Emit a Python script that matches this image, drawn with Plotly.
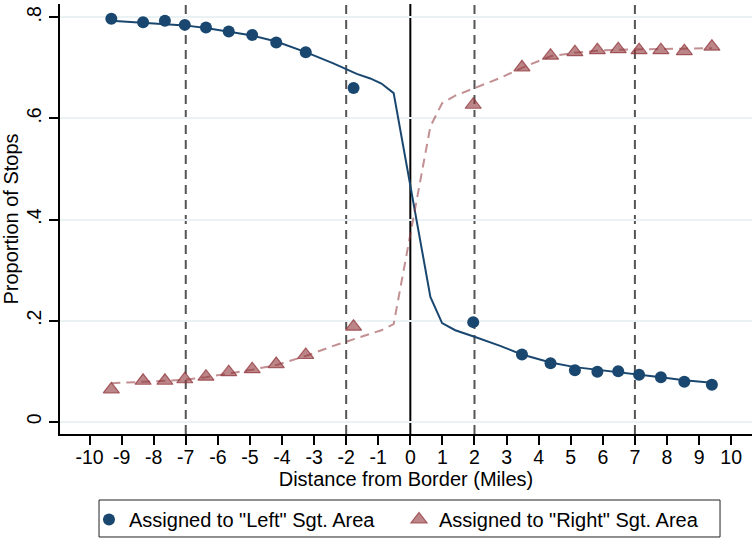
import plotly.graph_objects as go

# ---- data ----
bin_x = [-9.32, -8.33, -7.65, -7.03, -6.37, -5.66, -4.93, -4.18, -3.26, -1.77,
         1.96, 3.48, 4.37, 5.13, 5.83, 6.48, 7.13, 7.81, 8.54, 9.40]
left_share = [0.797, 0.790, 0.793, 0.785, 0.780, 0.772, 0.765, 0.750, 0.731, 0.660,
              0.197, 0.133, 0.1155, 0.102, 0.099, 0.0997, 0.093, 0.088, 0.079, 0.073]
right_share = [0.064, 0.081, 0.081, 0.084, 0.089, 0.098, 0.104, 0.114, 0.132, 0.188,
               0.627, 0.701, 0.724, 0.731, 0.735, 0.737, 0.735, 0.735, 0.733, 0.742]

fit_x = [-9.32, -8.33, -7.65, -7.03, -6.37, -5.66, -4.93, -4.18, -3.26, -2.4, -1.67,
         -1.25, -0.9, -0.52, 0.625, 0.99, 1.4, 2.0, 2.8, 3.48, 4.37, 5.13, 5.83,
         6.48, 7.13, 7.81, 8.54, 9.4]
fit_left = [0.793, 0.789, 0.787, 0.784, 0.779, 0.772, 0.764, 0.752, 0.731, 0.709, 0.688,
            0.679, 0.669, 0.650, 0.247, 0.195, 0.181, 0.168, 0.150, 0.133, 0.117, 0.108,
            0.103, 0.099, 0.094, 0.088, 0.082, 0.077]
fit_right = [0.076, 0.079, 0.081, 0.083, 0.088, 0.095, 0.103, 0.112, 0.130, 0.150, 0.165,
             0.173, 0.181, 0.193, 0.584, 0.630, 0.645, 0.660, 0.680, 0.700, 0.723, 0.730,
             0.734, 0.736, 0.737, 0.737, 0.738, 0.739]

x_ticks = list(range(-10, 11))
x_tick_text = [str(v) for v in x_ticks]  # plain hyphen-minus, as in the reference
y_ticks = [0, 0.2, 0.4, 0.6, 0.8]
y_tick_text = ["0", ".2", ".4", ".6", ".8"]
dashed_at = [-7, -2, 2, 7]
border_at = 0

NAVY = "#1a476f"
MAROON = "144,53,59"
FONT = "Liberation Sans, Arial, Helvetica, sans-serif"

fig = go.Figure()

fig.add_trace(go.Scatter(x=fit_x, y=fit_left, mode="lines",
                         line=dict(color=NAVY, width=2), showlegend=False, hoverinfo="skip"))
fig.add_trace(go.Scatter(x=fit_x, y=fit_right, mode="lines",
                         line=dict(color=f"rgba({MAROON},0.55)", width=2, dash="9px,6px"),
                         showlegend=False, hoverinfo="skip"))
fig.add_trace(go.Scatter(x=bin_x, y=left_share, mode="markers",
                         name='Assigned to "Left" Sgt. Area',
                         marker=dict(symbol="circle", size=12, color=NAVY,
                                     line=dict(width=0))))
fig.add_trace(go.Scatter(x=bin_x, y=right_share, mode="markers",
                         name='Assigned to "Right" Sgt. Area',
                         marker=dict(symbol="triangle-up", size=14,
                                     color=f"rgba({MAROON},0.6)",
                                     line=dict(width=1.2, color=f"rgba({MAROON},0.75)"))))

for xv in dashed_at:
    fig.add_shape(type="line", x0=xv, x1=xv, xref="x", y0=0, y1=1, yref="paper",
                  line=dict(color="#555555", width=2, dash="9px,6px"), layer="below")
fig.add_shape(type="line", x0=border_at, x1=border_at, xref="x", y0=0, y1=1, yref="paper",
              line=dict(color="black", width=2), layer="below")

# legend frame
fig.add_shape(type="rect", xref="paper", yref="paper",
              x0=0.0564, x1=0.9538, y0=-0.2395, y1=-0.1535,
              line=dict(color="#222", width=1), fillcolor="rgba(0,0,0,0)")

fig.update_layout(
    width=752, height=539,
    margin=dict(l=60, r=0, t=4, b=105),
    paper_bgcolor="white", plot_bgcolor="white",
    font=dict(family=FONT, size=20, color="black"),
    showlegend=True,
    legend=dict(orientation="h", x=0.0419, xanchor="left", y=-0.1535, yanchor="top",
                borderwidth=0, bgcolor="rgba(0,0,0,0)",
                font=dict(size=20), entrywidth=265, itemwidth=30,
                tracegroupgap=0),
)
fig.update_xaxes(range=[-10.92, 10.65], tickmode="array", tickvals=x_ticks,
                 ticktext=x_tick_text, ticklabelstandoff=-4,
                 ticks="outside", ticklen=9, tickwidth=1.5, tickcolor="black",
                 showline=True, linecolor="black", linewidth=2,
                 showgrid=False, zeroline=False,
                 tickfont=dict(size=19.5),
                 title=dict(text="Distance from Border (Miles)", font=dict(size=20), standoff=0))
fig.update_yaxes(range=[-0.0243, 0.8263], tickmode="array", tickvals=y_ticks,
                 ticktext=y_tick_text, tickangle=-90,
                 ticks="outside", ticklen=9, tickwidth=1.5, tickcolor="black",
                 showline=True, linecolor="black", linewidth=2,
                 showgrid=True, gridcolor="#eaf2f3", gridwidth=1.5, zeroline=False,
                 tickfont=dict(size=19.5),
                 title=dict(text="Proportion of Stops", font=dict(size=20), standoff=6))

fig.write_html("out.html")
